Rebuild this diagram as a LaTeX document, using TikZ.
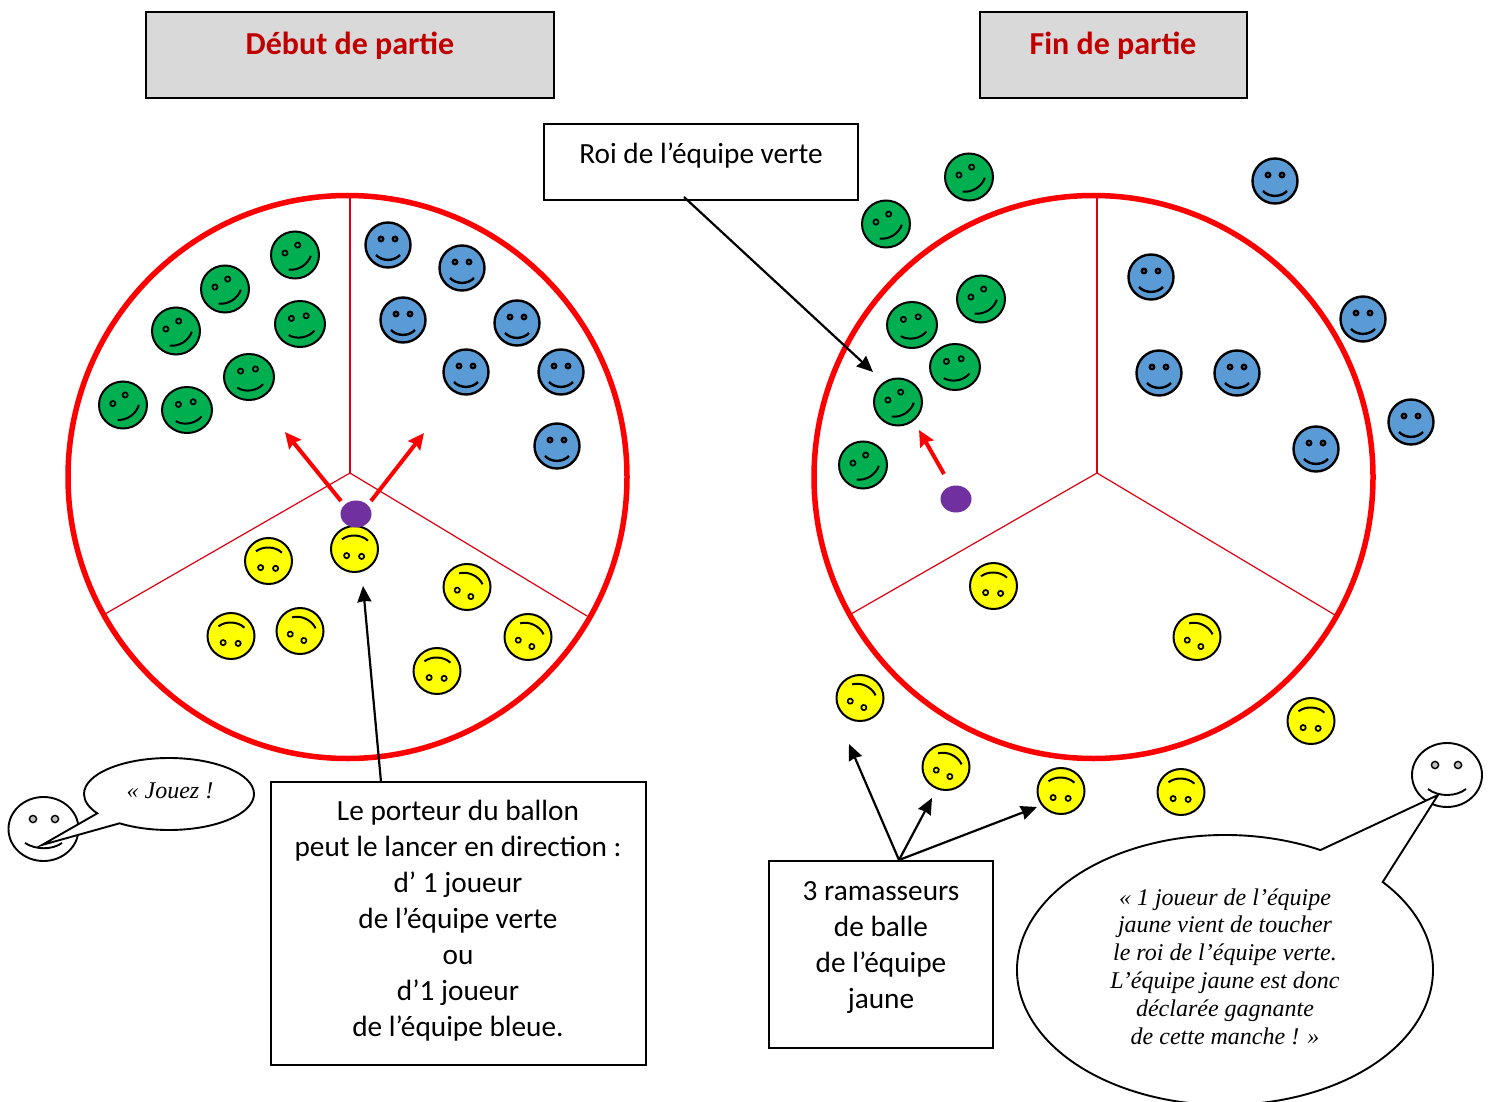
\documentclass[tikz,border=0pt]{standalone}
\usepackage{fontspec}
\setmainfont{Carlito}
\newfontfamily\bulle{Liberation Serif}
\usetikzlibrary{arrows.meta,shapes.geometric,shapes.callouts}

\definecolor{vert}{HTML}{00B050}
\definecolor{bleu}{HTML}{5B9BD5}
\definecolor{jaune}{HTML}{FFFF00}
\definecolor{violet}{HTML}{7030A0}
\definecolor{titre}{HTML}{C00000}
\definecolor{fond}{HTML}{D9D9D9}
\definecolor{rayon}{HTML}{E00010}

\tikzset{
  x=1pt,y=-1pt,
  terrain/.style={draw=red,line width=5.5pt},
  secteur/.style={draw=rayon,line width=1.2pt},
  titrebox/.style={draw=black,fill=fond,line width=2.8pt,inner sep=0pt},
  textbox/.style={draw=black,fill=white,line width=2.4pt,inner sep=0pt},
  titretxt/.style={text=titre,font={\fontsize{32}{38}\selectfont\bfseries}},
  boxtxt/.style={align=center,font={\fontsize{29.3}{36}\selectfont}},
  bullebox/.style={inner sep=0pt,draw=black,fill=white,line width=1.9pt,ellipse callout,callout pointer arc=22},
  bulletxt/.style={align=center,inner sep=0pt,font={\fontsize{24}{27.8}\selectfont\bulle\itshape}},
  vertface/.style={ellipse,draw=black,fill=vert,line width=2pt,minimum width=48pt,minimum height=47pt,inner sep=0pt},
  vertlarge/.style={vertface,minimum width=50pt,minimum height=46pt},
  bleuface/.style={ellipse,draw=black,fill=bleu,line width=2.4pt,minimum width=45pt,minimum height=45pt,inner sep=0pt},
  jauneface/.style={ellipse,draw=black,fill=jaune,line width=2pt,minimum width=47pt,minimum height=46pt,inner sep=0pt},
  blancface/.style={ellipse,draw=black,fill=white,line width=1.9pt,minimum width=70pt,minimum height=64pt,inner sep=0pt},
  ballon/.style={ellipse,fill=violet,minimum width=31pt,minimum height=27pt,inner sep=0pt},
  lancer/.style={-{Stealth[length=16pt,width=15pt,inset=2pt]},red,line width=4pt},
  fleche/.style={-{Stealth[length=16pt,width=14pt,inset=1pt]},black,line width=2.2pt},
  pics/visage/.style={code={
    \draw[line width=1.7pt] (-7.5,-7) circle[radius=2.6];
    \draw[line width=1.7pt] (7.5,-7) circle[radius=2.6];
    \draw[line width=2pt] (-13,9) .. controls (-6,15) and (6,15) .. (13,9);
  }},
  pics/visagebleu/.style={code={
    \draw[line width=2.4pt] (-7,-6) circle[radius=2.2];
    \draw[line width=2.4pt] (7,-6) circle[radius=2.2];
    \draw[line width=2.4pt] (-12,10) .. controls (-6,16.5) and (6,16.5) .. (12,10);
  }}
}
\newcommand{\smiley}[5]{%
  \node[#5] (#1) at (#2,#3) {};
  \pic[rotate=#4] at (#1) {visage};
}
\newcommand{\smileybleu}[3]{%
  \node[bleuface] (#1) at (#2,#3) {};
  \pic at (#1) {visagebleu};
}

\begin{document}
\begin{tikzpicture}
\useasboundingbox (0,0) rectangle (1494,1102);

% titres
\node[titrebox,minimum width=408pt,minimum height=86pt] (debutbox) at (350,55) {};
\node[titretxt] (debut) at (350,46) {Début de partie};
\node[titrebox,minimum width=267pt,minimum height=86pt] (finbox) at (1113.5,55) {};
\node[titretxt] (fin) at (1113,46) {Fin de partie};

% terrain de gauche
\node[terrain,ellipse,minimum width=559pt,minimum height=563pt,inner sep=0pt] (terrainA) at (347.5,477) {};
\coordinate (centreA) at (350,473);
\coordinate (hautA) at (350,198);
\coordinate (gaucheA) at (105,614);
\coordinate (droiteA) at (587,616);
\draw[secteur] (centreA) -- (hautA);
\draw[secteur] (centreA) -- (gaucheA);
\draw[secteur] (centreA) -- (droiteA);

% terrain de droite
\node[terrain,ellipse,minimum width=559pt,minimum height=563pt,inner sep=0pt] (terrainB) at (1093.5,477) {};
\coordinate (centreB) at (1097,473);
\coordinate (hautB) at (1097,198);
\coordinate (gaucheB) at (851,614);
\coordinate (droiteB) at (1335,615);
\draw[secteur] (centreB) -- (hautB);
\draw[secteur] (centreB) -- (gaucheB);
\draw[secteur] (centreB) -- (droiteB);

% equipe verte
\smiley{va1}{123}{405}{35}{vertface}
\smiley{va2}{187}{410}{10}{vertlarge}
\smiley{va3}{249}{377}{8}{vertlarge}
\smiley{va4}{176}{331}{32}{vertface}
\smiley{va5}{225}{289}{32}{vertface}
\smiley{va6}{295}{255}{32}{vertface}
\smiley{va7}{300}{324}{10}{vertlarge}
\smiley{vb1}{969}{177}{32}{vertface}
\smiley{vb2}{886}{224}{32}{vertface}
\smiley{vb3}{981}{299}{32}{vertface}
\smiley{vb4}{912}{325}{10}{vertlarge}
\smiley{vb5}{955}{367}{10}{vertlarge}
\smiley{vb6}{898}{402}{32}{vertface}
\smiley{vb7}{863}{465}{32}{vertface}

% equipe bleue
\smileybleu{ba1}{388}{245}
\smileybleu{ba2}{462}{268}
\smileybleu{ba3}{403}{320}
\smileybleu{ba4}{517}{323}
\smileybleu{ba5}{466}{372}
\smileybleu{ba6}{561}{372}
\smileybleu{ba7}{557}{446}
\smileybleu{bb1}{1275}{181}
\smileybleu{bb2}{1151}{277}
\smileybleu{bb3}{1363}{319}
\smileybleu{bb4}{1159}{373}
\smileybleu{bb5}{1237}{373}
\smileybleu{bb6}{1316}{449}
\smileybleu{bb7}{1411}{422}

% equipe jaune
\smiley{ja1}{354.5}{549}{177}{jauneface}
\smiley{ja2}{268.5}{561}{177}{jauneface}
\smiley{ja3}{231}{636}{177}{jauneface}
\smiley{ja4}{300}{631}{155}{jauneface}
\smiley{ja5}{467}{587}{155}{jauneface}
\smiley{ja6}{528}{637}{155}{jauneface}
\smiley{ja7}{437}{671}{177}{jauneface}
\smiley{jb1}{993.5}{586}{177}{jauneface}
\smiley{jb2}{1197}{637}{155}{jauneface}
\smiley{jb3}{860}{698}{155}{jauneface}
\smiley{jb4}{946}{767}{155}{jauneface}
\smiley{jb5}{1061}{791}{177}{jauneface}
\smiley{jb6}{1181}{792}{177}{jauneface}
\smiley{jb7}{1311}{721}{177}{jauneface}

% ballons
\node[ballon] (ballonA) at (356,514) {};
\node[ballon] (ballonB) at (956,499) {};

\coordinate (departVerte) at (341,501);
\coordinate (departBleue) at (371,501);
\coordinate (departB) at (944,474);
\coordinate (versVerteA) at (285,432);
\coordinate (versBleueA) at (424,433);
\coordinate (versRoi) at (919,430);
\draw[lancer] (departVerte) -- (versVerteA);
\draw[lancer] (departBleue) -- (versBleueA);
\draw[lancer] (departB) -- (versRoi);

% cadres
\node[textbox,minimum width=314pt,minimum height=76pt] (roibox) at (701,162) {};
\node[boxtxt] (roi) at (701,156) {Roi de l’équipe verte};
\node[textbox,minimum width=375pt,minimum height=283pt] (porteurbox) at (458.5,923.5) {};
\node[boxtxt] (porteur) at (458,921) {Le porteur du ballon\\peut le lancer en direction :\\d’ 1 joueur\\de l’équipe verte\\ou\\d’1 joueur\\de l’équipe bleue.};
\node[textbox,minimum width=224pt,minimum height=187pt] (ramasseurbox) at (881,954.5) {};
\node[boxtxt] (ramasseur) at (881,947.5) {3 ramasseurs\\de balle\\de l’équipe\\jaune};

\coordinate (departRoi) at (684,197);
\coordinate (finRoi) at (873,372);
\coordinate (departPorteur) at (381,782);
\coordinate (finPorteur) at (363,586);
\coordinate (departRam) at (899,860);
\coordinate (finRam1) at (849,744);
\coordinate (finRam2) at (932,798);
\coordinate (finRam3) at (1037,807);
\draw[fleche] (departRoi) -- (finRoi);
\draw[fleche] (departPorteur) -- (finPorteur);
\draw[fleche] (departRam) -- (finRam1);
\draw[fleche] (departRam) -- (finRam2);
\draw[fleche] (departRam) -- (finRam3);

% arbitres
\node[blancface] (arbitreA) at (43.5,829) {};
\filldraw[fill=black!25,line width=1.4pt] (33,819) circle[radius=3.6];
\filldraw[fill=black!25,line width=1.4pt] (55,819) circle[radius=3.6];
\draw[line width=1.9pt] (25,843) .. controls (36,850) and (52,850) .. (62,843);
\node[blancface] (arbitreB) at (1447,775) {};
\filldraw[fill=black!25,line width=1.4pt] (1435,765) circle[radius=3.6];
\filldraw[fill=black!25,line width=1.4pt] (1458,765) circle[radius=3.6];
\draw[line width=1.9pt] (1428,789) .. controls (1438,797) and (1456,797) .. (1466,789);

% bulles
\node[bullebox,minimum width=170pt,minimum height=72pt,callout absolute pointer={(42,845)}] (jouezbox) at (169,794) {};
\node[bulletxt] (jouez) at (170,791) {« Jouez !};
\node[bullebox,minimum width=416pt,minimum height=270pt,callout absolute pointer={(1438,795)}] (gagnebox) at (1225,970) {};
\node[bulletxt] (gagne) at (1225,966.5) {« 1 joueur de l’équipe\\jaune vient de toucher\\le roi de l’équipe verte.\\L’équipe jaune est donc\\déclarée gagnante\\de cette manche ! »};
\end{tikzpicture}
\end{document}
